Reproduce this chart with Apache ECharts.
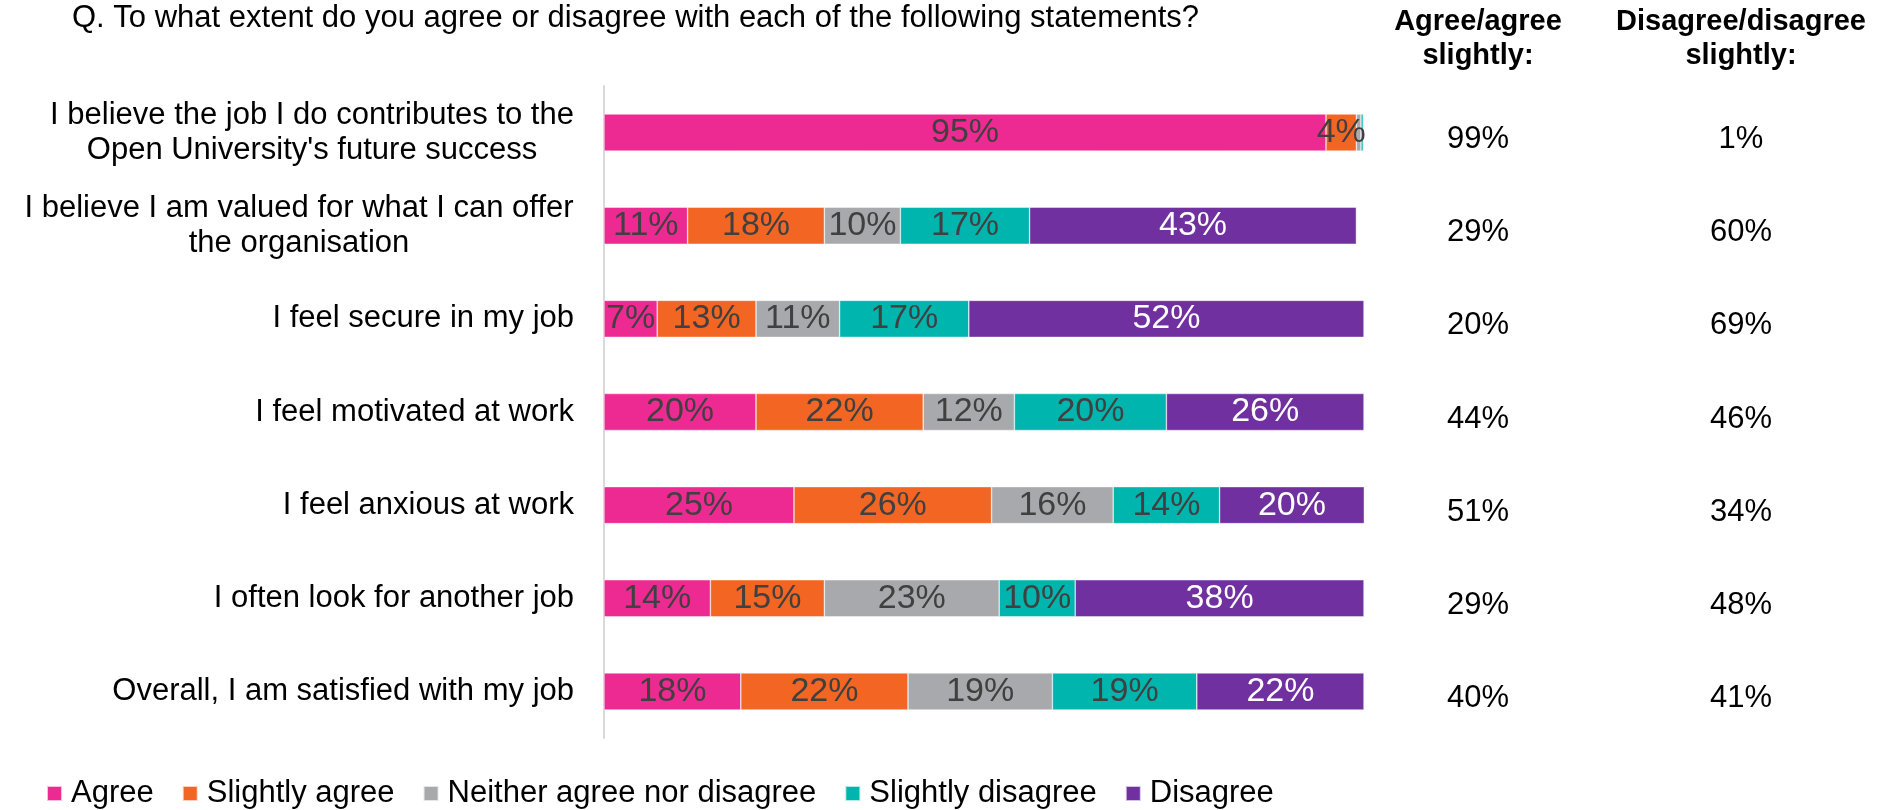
<!DOCTYPE html>
<html>
<head>
<meta charset="utf-8">
<title>Staff survey – agreement with statements</title>
<script src="https://cdn.jsdelivr.net/npm/echarts@6/dist/echarts.min.js"></script>
<style>
  html, body { margin: 0; padding: 0; background: #fff; }
  #chart { width: 1882px; height: 810px; }
</style>
</head>
<body>
<div id="chart"></div>
<script>
// Survey statements (top to bottom)
const categories = [
  "I believe the job I do contributes to the\nOpen University's future success",
  "I believe I am valued for what I can offer\nthe organisation",
  "I feel secure in my job",
  "I feel motivated at work",
  "I feel anxious at work",
  "I often look for another job",
  "Overall, I am satisfied with my job"
];

// Response shares, % of respondents
const agree            = [95, 11, 7, 20, 25, 14, 18];
const slightlyAgree    = [4, 18, 13, 22, 26, 15, 22];
const neither          = [0.6, 10, 11, 12, 16, 23, 19];
const slightlyDisagree = [0.3, 17, 17, 20, 14, 10, 19];
const disagree         = [0.1, 43, 52, 26, 20, 38, 22];

// Combined totals shown in the right-hand columns
const agreeTotal    = [99, 29, 20, 44, 51, 29, 40];
const disagreeTotal = [1, 60, 69, 46, 34, 48, 41];

const seriesNames = ['Agree', 'Slightly agree', 'Neither agree nor disagree', 'Slightly disagree', 'Disagree'];
const seriesValues = [agree, slightlyAgree, neither, slightlyDisagree, disagree];
const seriesColors = ['#ED2A91', '#F26522', '#A7A9AC', '#00B5AE', '#7030A0'];
const labelColors  = ['#404040', '#404040', '#404040', '#404040', '#ffffff'];

const FONT = '"Liberation Sans", Arial, Helvetica, sans-serif';
const SIZE = 31;
const BAR_LABEL_SIZE = 34;

// Two-line statement labels: centre the lines within their block
const measureCtx = document.createElement('canvas').getContext('2d');
measureCtx.font = SIZE + 'px "Liberation Sans", Arial, sans-serif';
const rich = {};
categories.forEach((c, i) => {
  const lines = c.split('\n');
  if (lines.length > 1) {
    const w = Math.max(...lines.map(l => measureCtx.measureText(l).width));
    rich['w' + i] = { width: Math.ceil(w), align: 'center', fontSize: SIZE, fontFamily: FONT, color: '#000', lineHeight: 35 };
  }
});

const chart = echarts.init(document.getElementById('chart'), null, { renderer: 'canvas' });

// Totals columns: a small spacer line above each value sets it slightly below the bar centre
const totalsAxis = (values, offset) => ({
  type: 'category', data: values.map(v => v + '%'), inverse: true,
  position: 'right', offset: offset,
  axisLine: { show: false }, axisTick: { show: false },
  axisLabel: {
    margin: 0, align: 'center',
    formatter: v => '{s| }\n{v|' + v + '}',
    rich: {
      s: { fontSize: 2, lineHeight: 14, height: 14 },
      v: { fontSize: SIZE, color: '#000', fontFamily: FONT, lineHeight: 35 }
    }
  }
});

const option = {
  animation: false,
  backgroundColor: '#ffffff',
  textStyle: { fontFamily: FONT },
  title: [
    {
      text: 'Q. To what extent do you agree or disagree with each of the following statements?',
      left: 72, top: 3, padding: 0,
      textStyle: { fontSize: SIZE, fontWeight: 'normal', color: '#000', fontFamily: FONT }
    },
    {
      text: 'Agree/agree\nslightly:',
      left: 1478, top: 5, padding: 0, textAlign: 'center',
      textStyle: { fontSize: 29, fontWeight: 'bold', color: '#000', fontFamily: FONT, lineHeight: 34 }
    },
    {
      text: 'Disagree/disagree\nslightly:',
      left: 1741, top: 5, padding: 0, textAlign: 'center',
      textStyle: { fontSize: 29, fontWeight: 'bold', color: '#000', fontFamily: FONT, lineHeight: 34 }
    }
  ],
  legend: {
    data: seriesNames,
    left: 46, top: 778, padding: 0,
    icon: 'rect', itemWidth: 15, itemHeight: 15, itemGap: 28,
    textStyle: { fontSize: SIZE, color: '#000', fontFamily: FONT, padding: [0, 0, 0, 4] }
  },
  grid: { left: 604, top: 86, width: 760, height: 652, containLabel: false },
  xAxis: {
    type: 'value', min: 0, max: 100, show: false
  },
  yAxis: [
    {
      type: 'category', data: categories, inverse: true,
      axisLine: { show: true, lineStyle: { color: '#D9D9D9', width: 2 } },
      axisTick: { show: false },
      axisLabel: {
        margin: 30, fontSize: SIZE, color: '#000', fontFamily: FONT, lineHeight: 35,
        formatter: (value, index) => {
          const lines = value.split('\n');
          if (lines.length < 2) return value;
          return lines.map(l => '{w' + index + '|' + l + '}').join('\n');
        },
        rich: rich
      }
    },
    totalsAxis(agreeTotal, 114),
    totalsAxis(disagreeTotal, 377)
  ],
  series: seriesNames.map((name, i) => ({
    name: name,
    type: 'bar',
    stack: 'total',
    yAxisIndex: 0,
    barWidth: 37,
    data: seriesValues[i],
    itemStyle: { color: seriesColors[i], borderColor: 'rgba(255,255,255,0.7)', borderWidth: 0.6 },
    label: {
      show: true, position: 'inside',
      fontSize: BAR_LABEL_SIZE, fontFamily: FONT, color: labelColors[i],
      formatter: p => (p.value >= 3 ? p.value + '%' : '')
    }
  }))
};

chart.setOption(option);
</script>
</body>
</html>
